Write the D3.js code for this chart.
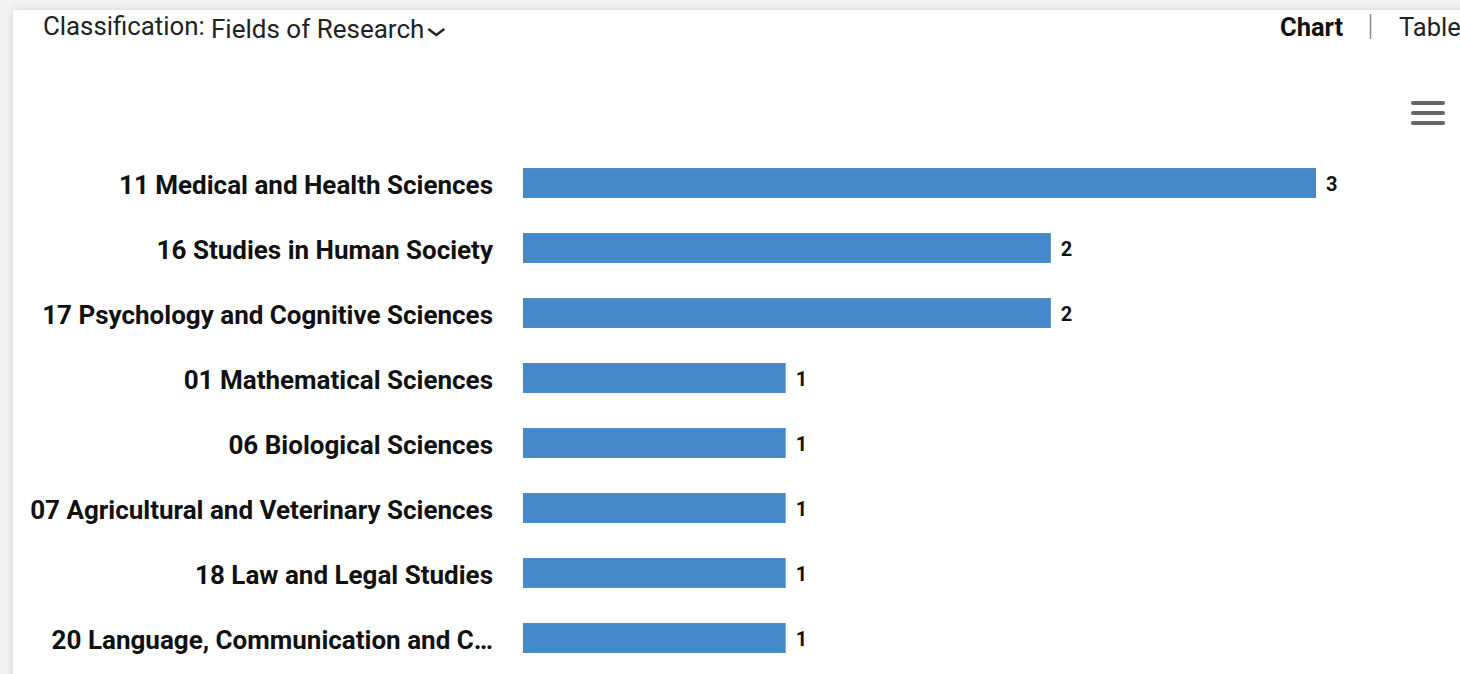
<!DOCTYPE html>
<html>
<head>
<meta charset="utf-8">
<script src="https://cdn.jsdelivr.net/npm/d3@7"></script>
<style>
  html, body { margin: 0; padding: 0; background: #f3f3f3; }
  #card { position: absolute; left: 13px; top: 10px; width: 1460px; height: 680px; background: #fff;
          box-shadow: 0 0 8px rgba(0,0,0,0.12); }
  svg { position: absolute; left: 0; top: 0; }
</style>
</head>
<body>
<div id="card"></div>
<svg id="chart" width="1460" height="674"></svg>
<script>
const categories = [
  "11 Medical and Health Sciences",
  "16 Studies in Human Society",
  "17 Psychology and Cognitive Sciences",
  "01 Mathematical Sciences",
  "06 Biological Sciences",
  "07 Agricultural and Veterinary Sciences",
  "18 Law and Legal Studies",
  "20 Language, Communication and C\u2026"
];
const values = [3, 2, 2, 1, 1, 1, 1, 1];
const headerLabel = "Classification:";
const headerValue = "Fields of Research";
const tabs = ["Chart", "Table"];

const svg = d3.select("#chart");
const font = "Roboto, 'Noto Sans', sans-serif";

const x = d3.scaleLinear().domain([0, 3]).range([520.5, 1316]);
const y = d3.scaleBand().domain(categories).range([150.5, 670.5]).paddingInner(0.54).paddingOuter(0.27);

// header
svg.append("text").attr("x", 43).attr("y", 35).attr("font-family", font).attr("font-size", 25.8)
  .attr("fill", "#222").text(headerLabel);
const hv = svg.append("text").attr("x", 211).attr("y", 37.5).attr("font-family", font).attr("font-size", 26)
  .attr("fill", "#222").text(headerValue);
const hvEnd = 211 + hv.node().getComputedTextLength();
// chevron
svg.append("path").attr("d", `M${hvEnd + 4},29 L${hvEnd + 12},35 L${hvEnd + 20},29`)
  .attr("fill", "none").attr("stroke", "#222").attr("stroke-width", 2.4);

svg.append("text").attr("x", 1280).attr("y", 36).attr("font-family", font)
  .attr("font-weight", "bold").attr("font-size", 25.5).attr("fill", "#111").text(tabs[0]);
svg.append("line").attr("x1", 1370.5).attr("x2", 1370.5).attr("y1", 14).attr("y2", 39).attr("stroke", "#888").attr("stroke-width", 1.5);
svg.append("text").attr("x", 1399).attr("y", 36).attr("font-family", font)
  .attr("font-size", 25.5).attr("fill", "#222").text(tabs[1]);

// hamburger
[103, 113, 123].forEach(cy => {
  svg.append("line").attr("x1", 1413).attr("x2", 1443).attr("y1", cy).attr("y2", cy)
    .attr("stroke", "#666").attr("stroke-width", 4).attr("stroke-linecap", "round");
});

// bars
const rows = categories.map((c, i) => ({c, v: values[i]}));
svg.append("g").selectAll("rect").data(rows).join("rect")
  .attr("x", x(0) + 2.5).attr("y", d => y(d.c))
  .attr("width", d => x(d.v) - x(0) - 2.5).attr("height", y.bandwidth())
  .attr("fill", "#4589ca");

// category labels
svg.append("g").selectAll("text").data(rows).join("text")
  .attr("x", 493).attr("y", d => y(d.c) + y.bandwidth() / 2).attr("dy", "0.43em")
  .attr("text-anchor", "end").attr("font-family", font).attr("font-weight", "bold")
  .attr("font-size", 26).attr("fill", "#111").text(d => d.c);

// value labels
svg.append("g").selectAll("text").data(rows).join("text")
  .attr("x", d => x(d.v) + 10).attr("y", d => y(d.c) + y.bandwidth() / 2).attr("dy", "0.42em")
  .attr("font-family", font).attr("font-weight", "bold")
  .attr("font-size", 20).attr("fill", "#111").text(d => d.v);
</script>
</body>
</html>
